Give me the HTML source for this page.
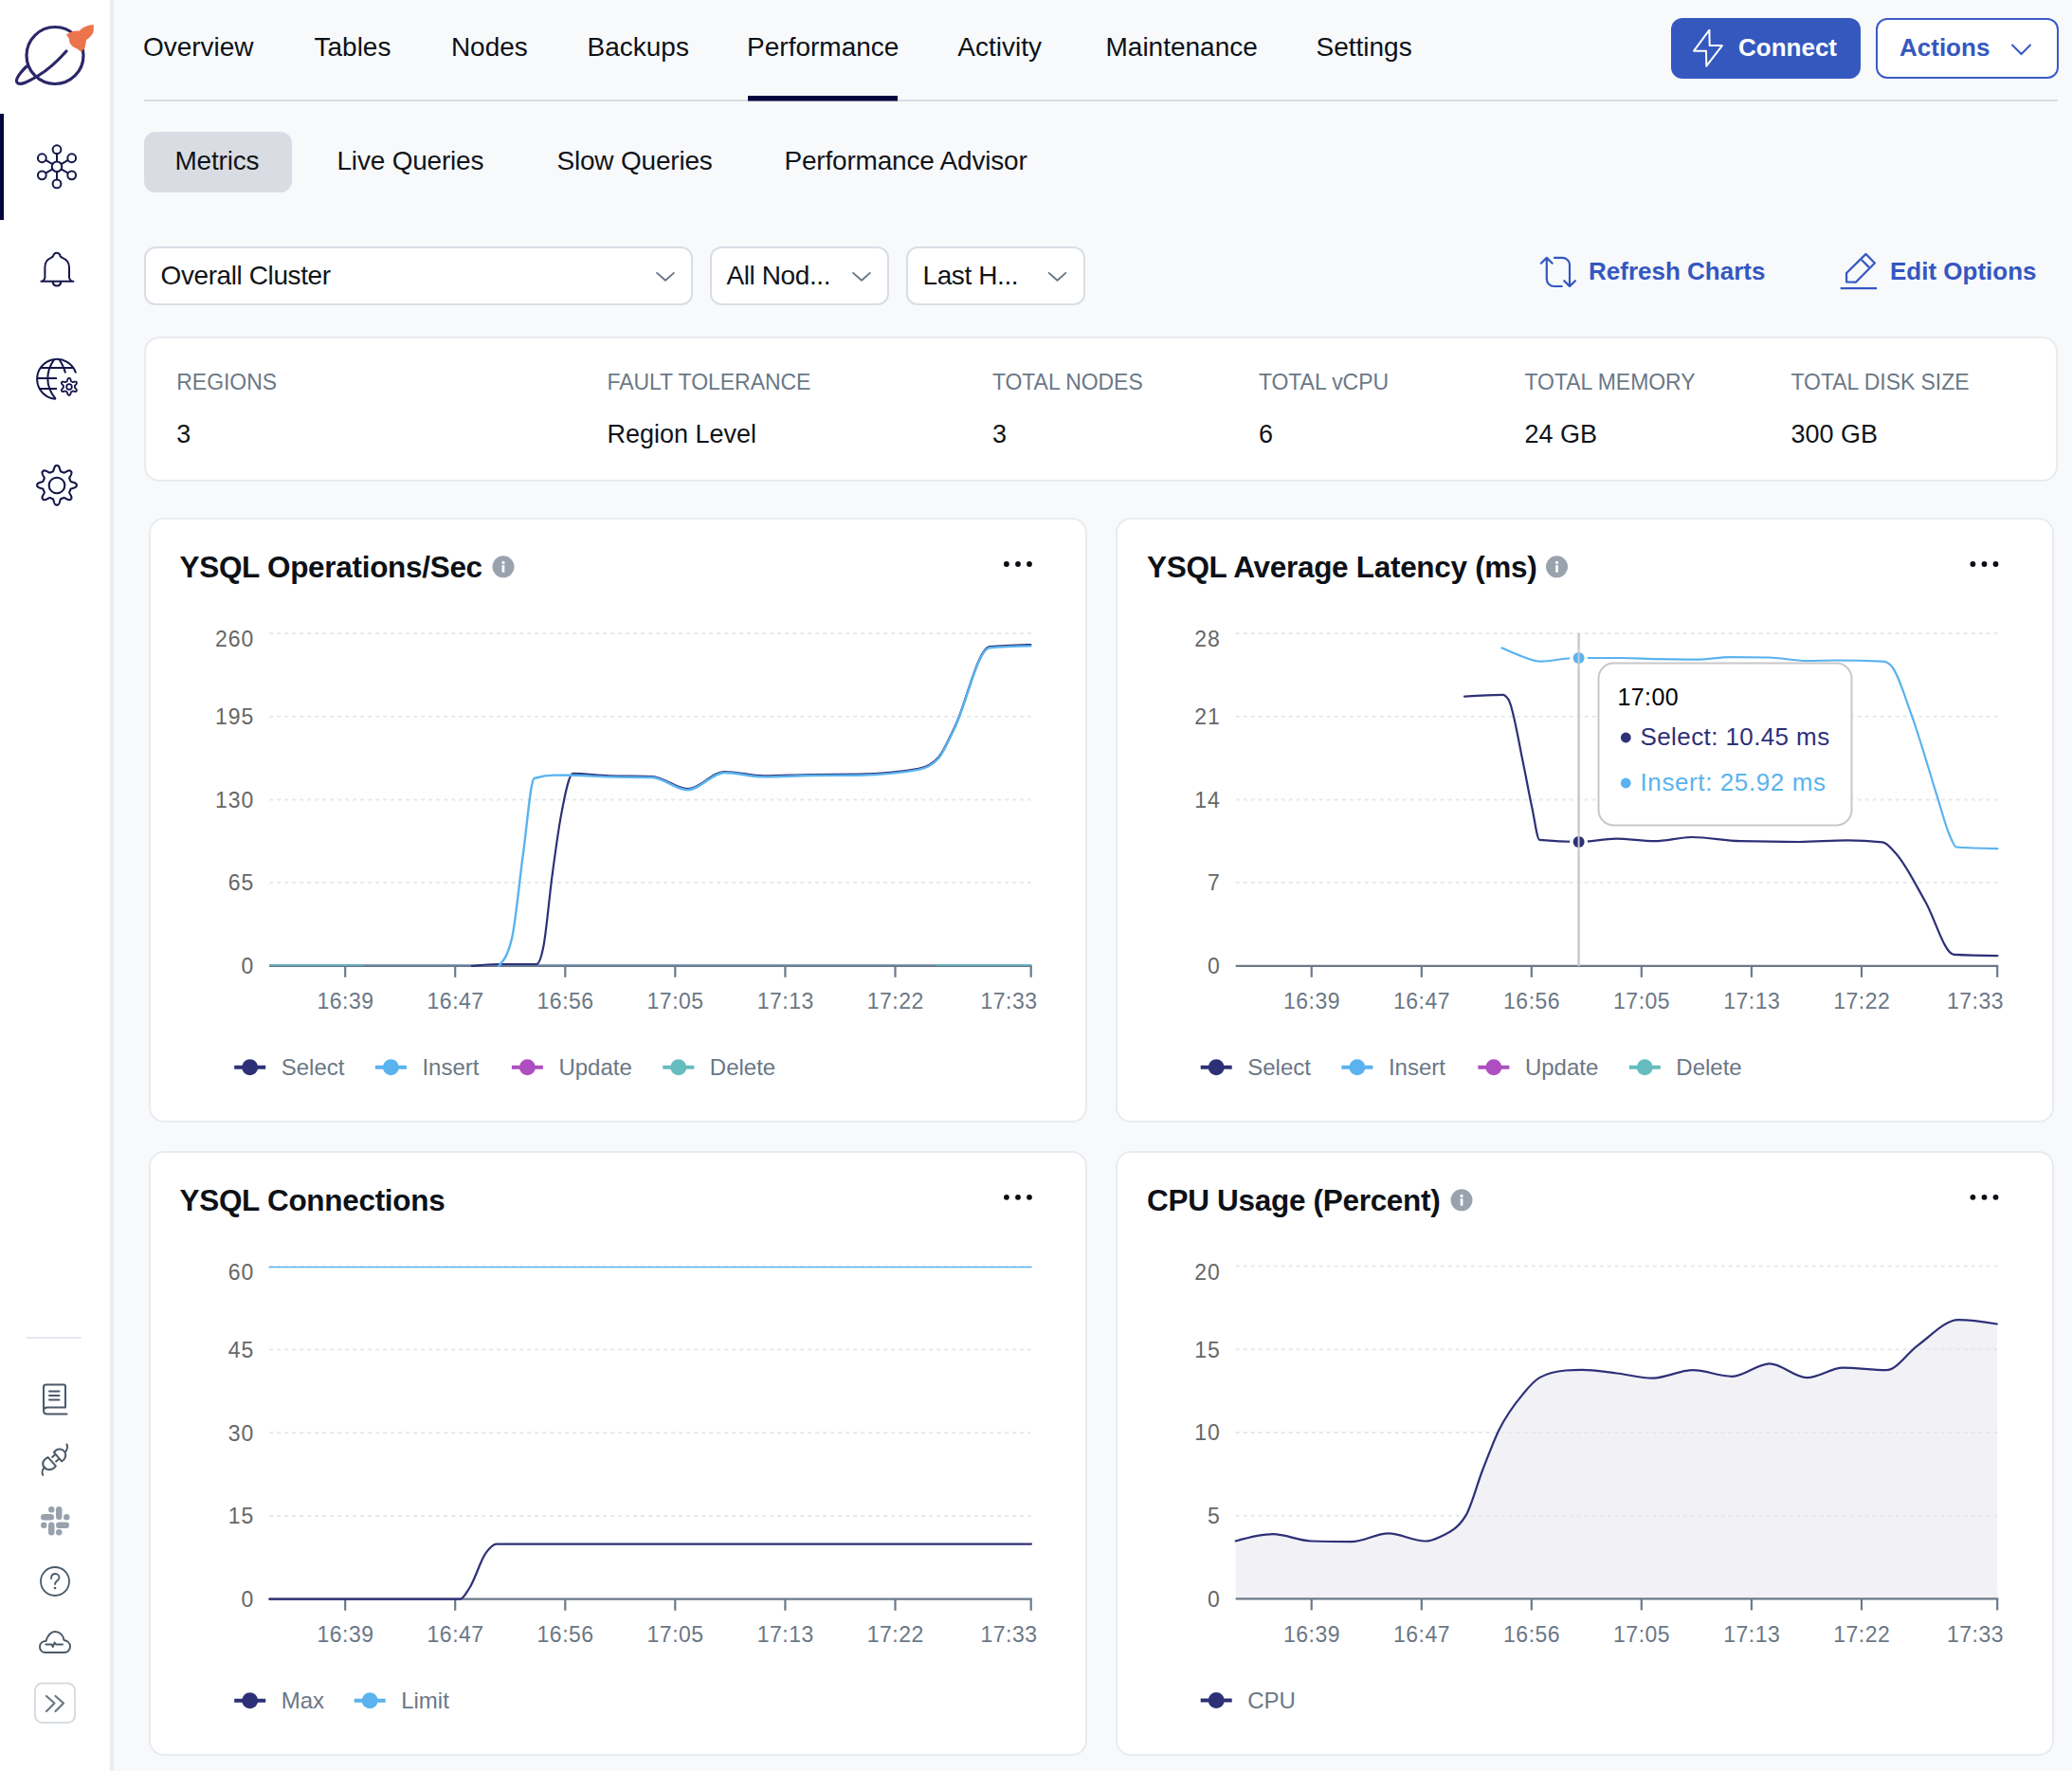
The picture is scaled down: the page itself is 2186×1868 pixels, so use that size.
<!DOCTYPE html>
<html><head><meta charset="utf-8"><title>Performance</title>
<style>
html,body{margin:0;padding:0;width:2186px;height:1868px;overflow:hidden;background:#f8f9fb;font-family:"Liberation Sans",sans-serif;}
.abs{position:absolute;}
#sidebar{position:absolute;left:0;top:0;width:116px;height:1868px;background:#fff;border-right:4px solid #e9ecf0;}
.card{position:absolute;background:#fff;border:2px solid #e8ebef;border-radius:16px;box-sizing:border-box;}
.btn{position:absolute;box-sizing:border-box;border-radius:12px;}
.sel{position:absolute;box-sizing:border-box;background:#fff;border:2px solid #d9dee4;border-radius:12px;height:62px;top:260px;}
svg text{font-family:"Liberation Sans",sans-serif;}
</style></head><body>

<div id="sidebar"></div>
<div class="abs" style="left:0;top:120px;width:4px;height:112px;background:#03033d"></div>
<div class="btn" style="left:1763px;top:19px;width:200px;height:64px;background:#3558bf"></div>
<div class="btn" style="left:1979px;top:19px;width:193px;height:64px;background:#fff;border:2px solid #3a5bc7"></div>
<div class="btn" style="left:152px;top:139px;width:156px;height:64px;background:#d9dde3"></div>
<div class="sel" style="left:152px;width:579px"></div>
<div class="sel" style="left:749px;width:189px"></div>
<div class="sel" style="left:956px;width:189px"></div>
<div class="card" style="left:152px;top:355px;width:2019px;height:153px"></div>
<div class="card" style="left:157px;top:546px;width:990px;height:638px"></div>
<div class="card" style="left:1177px;top:546px;width:990px;height:638px"></div>
<div class="card" style="left:157px;top:1214px;width:990px;height:638px"></div>
<div class="card" style="left:1177px;top:1214px;width:990px;height:638px"></div>
<svg class="abs" style="left:0;top:0" width="2186" height="1868" viewBox="0 0 2186 1868">
<g fill="none" stroke="#2b2767" stroke-width="3.2" stroke-linecap="round">
<circle cx="58" cy="58.5" r="30"/>
<path d="M28,70 C20,78 16,84 18,87 C21,91 30,86 40,80 C52,73 62,63 70,54"/>
</g>
<path d="M98.8,26.3 C95,26 88.5,27.5 83.8,32.4 L77.2,32.8 L69.9,36.3 L73,40.9 C72.8,45 75,49 80.7,51 L85.7,54.8 L89.6,50.2 L91.1,42.1 C94.5,39.5 98.8,36.5 98.8,30.9 Z" fill="#ec744c"/>
<g fill="none" stroke="#14164a" stroke-width="2">
<circle cx="60" cy="175.8" r="5.3"/>
<circle cx="60.00" cy="157.70" r="4.4"/>
<line x1="60.00" y1="170.50" x2="60.00" y2="162.10"/>
<circle cx="75.68" cy="166.75" r="4.4"/>
<line x1="64.59" y1="173.15" x2="71.86" y2="168.95"/>
<circle cx="75.68" cy="184.85" r="4.4"/>
<line x1="64.59" y1="178.45" x2="71.86" y2="182.65"/>
<circle cx="60.00" cy="193.90" r="4.4"/>
<line x1="60.00" y1="181.10" x2="60.00" y2="189.50"/>
<circle cx="44.32" cy="184.85" r="4.4"/>
<line x1="55.41" y1="178.45" x2="48.14" y2="182.65"/>
<circle cx="44.32" cy="166.75" r="4.4"/>
<line x1="55.41" y1="173.15" x2="48.14" y2="168.95"/>
</g>
<g fill="none" stroke="#14164a" stroke-width="2" stroke-linejoin="round">
<path d="M42.6,296.8 L78.2,296.8"/>
<path d="M45,296.8 C46.5,295.5 47.4,294.5 47.4,292.5 L47.4,282 C47.4,277 50,273.5 53.4,272.1 L55.9,270.6 C56.5,268 58,266.8 59.8,266.8 C61.6,266.8 63.2,268 63.8,270.6 L66.2,272.1 C69.8,273.5 73,277 73,282 L73,292.5 C73,294.5 74,295.5 75.5,296.8"/>
<path d="M55.6,297 C56,300 57.8,301.5 60,301.5 C62.2,301.5 64,300 64.4,297"/>
</g>
<g fill="none" stroke="#14164a" stroke-width="2">
<path d="M80.1,393.4 A21,21 0 1 0 58.8,420.8"/>
<path d="M57.1,379.1 C52.5,386 50.3,393 50.3,399 C50.3,406 53,414 58.8,420.8"/>
<path d="M62.5,379.1 C65.5,384 67.8,388.5 69,393.4"/>
<line x1="42.5" y1="388" x2="77" y2="388"/><line x1="39" y1="399" x2="60" y2="399"/><line x1="41.5" y1="410" x2="60" y2="410"/>
</g>
<g fill="none" stroke="#14164a" stroke-width="1.8" stroke-linejoin="round">
<path d="M78.90,407.80 L78.90,407.85 L78.90,407.90 L78.90,407.96 L78.90,408.01 L78.89,408.06 L78.89,408.11 L78.89,408.17 L78.89,408.22 L78.88,408.27 L78.88,408.32 L78.87,408.38 L78.87,408.43 L78.86,408.48 L78.86,408.53 L78.85,408.58 L78.85,408.64 L78.86,408.69 L78.88,408.75 L78.91,408.81 L78.94,408.87 L78.99,408.93 L79.03,408.99 L79.09,409.06 L79.15,409.13 L79.22,409.20 L79.29,409.28 L79.37,409.35 L79.45,409.43 L79.53,409.52 L79.62,409.60 L79.71,409.69 L79.80,409.78 L79.89,409.87 L79.98,409.97 L80.07,410.06 L80.16,410.16 L80.25,410.26 L80.34,410.36 L80.42,410.46 L80.50,410.57 L80.57,410.67 L80.64,410.77 L80.70,410.87 L80.76,410.98 L80.81,411.08 L80.85,411.18 L80.89,411.27 L80.92,411.37 L80.94,411.46 L80.95,411.55 L80.95,411.64 L80.95,411.73 L80.94,411.81 L80.91,411.88 L80.88,411.96 L80.85,412.03 L80.81,412.09 L80.77,412.16 L80.73,412.23 L80.69,412.30 L80.65,412.37 L80.61,412.44 L80.57,412.50 L80.53,412.57 L80.49,412.64 L80.44,412.70 L80.39,412.76 L80.32,412.81 L80.25,412.85 L80.18,412.89 L80.09,412.93 L80.00,412.96 L79.90,412.98 L79.80,413.00 L79.69,413.01 L79.58,413.02 L79.46,413.02 L79.34,413.02 L79.22,413.01 L79.09,413.00 L78.97,412.98 L78.84,412.96 L78.71,412.94 L78.58,412.91 L78.45,412.88 L78.32,412.85 L78.19,412.82 L78.06,412.79 L77.94,412.75 L77.82,412.72 L77.70,412.69 L77.59,412.66 L77.48,412.63 L77.37,412.60 L77.27,412.57 L77.18,412.55 L77.09,412.53 L77.00,412.52 L76.92,412.51 L76.84,412.50 L76.78,412.50 L76.71,412.51 L76.65,412.52 L76.60,412.54 L76.55,412.56 L76.51,412.59 L76.47,412.62 L76.43,412.65 L76.38,412.68 L76.34,412.71 L76.30,412.74 L76.26,412.77 L76.21,412.80 L76.17,412.83 L76.12,412.86 L76.08,412.89 L76.03,412.92 L75.99,412.94 L75.95,412.97 L75.90,413.00 L75.85,413.02 L75.81,413.05 L75.76,413.07 L75.72,413.10 L75.67,413.12 L75.62,413.15 L75.58,413.17 L75.53,413.19 L75.48,413.22 L75.44,413.24 L75.39,413.26 L75.34,413.28 L75.29,413.30 L75.24,413.32 L75.20,413.34 L75.15,413.37 L75.11,413.41 L75.07,413.45 L75.03,413.51 L75.00,413.57 L74.97,413.63 L74.93,413.71 L74.90,413.79 L74.88,413.88 L74.85,413.97 L74.82,414.07 L74.79,414.18 L74.76,414.29 L74.73,414.40 L74.70,414.52 L74.67,414.64 L74.64,414.77 L74.60,414.89 L74.57,415.02 L74.53,415.14 L74.49,415.27 L74.45,415.40 L74.40,415.52 L74.35,415.64 L74.30,415.76 L74.25,415.88 L74.20,415.99 L74.14,416.09 L74.08,416.19 L74.02,416.29 L73.95,416.37 L73.89,416.45 L73.82,416.53 L73.75,416.59 L73.67,416.65 L73.60,416.69 L73.52,416.73 L73.45,416.76 L73.37,416.78 L73.29,416.79 L73.21,416.79 L73.14,416.80 L73.06,416.80 L72.98,416.80 L72.90,416.80 L72.82,416.80 L72.74,416.80 L72.66,416.80 L72.59,416.79 L72.51,416.79 L72.43,416.78 L72.35,416.76 L72.28,416.73 L72.20,416.69 L72.13,416.65 L72.05,416.59 L71.98,416.53 L71.91,416.45 L71.85,416.37 L71.78,416.29 L71.72,416.19 L71.66,416.09 L71.60,415.99 L71.55,415.88 L71.50,415.76 L71.45,415.64 L71.40,415.52 L71.35,415.40 L71.31,415.27 L71.27,415.14 L71.23,415.02 L71.20,414.89 L71.16,414.77 L71.13,414.64 L71.10,414.52 L71.07,414.40 L71.04,414.29 L71.01,414.18 L70.98,414.07 L70.95,413.97 L70.92,413.88 L70.90,413.79 L70.87,413.71 L70.83,413.63 L70.80,413.57 L70.77,413.51 L70.73,413.45 L70.69,413.41 L70.65,413.37 L70.60,413.34 L70.56,413.32 L70.51,413.30 L70.46,413.28 L70.41,413.26 L70.36,413.24 L70.32,413.22 L70.27,413.19 L70.22,413.17 L70.18,413.15 L70.13,413.12 L70.08,413.10 L70.04,413.07 L69.99,413.05 L69.95,413.02 L69.90,413.00 L69.85,412.97 L69.81,412.94 L69.77,412.92 L69.72,412.89 L69.68,412.86 L69.63,412.83 L69.59,412.80 L69.54,412.77 L69.50,412.74 L69.46,412.71 L69.42,412.68 L69.37,412.65 L69.33,412.62 L69.29,412.59 L69.25,412.56 L69.20,412.54 L69.15,412.52 L69.09,412.51 L69.02,412.50 L68.96,412.50 L68.88,412.51 L68.80,412.52 L68.71,412.53 L68.62,412.55 L68.53,412.57 L68.43,412.60 L68.32,412.63 L68.21,412.66 L68.10,412.69 L67.98,412.72 L67.86,412.75 L67.74,412.79 L67.61,412.82 L67.48,412.85 L67.35,412.88 L67.22,412.91 L67.09,412.94 L66.96,412.96 L66.83,412.98 L66.71,413.00 L66.58,413.01 L66.46,413.02 L66.34,413.02 L66.22,413.02 L66.11,413.01 L66.00,413.00 L65.90,412.98 L65.80,412.96 L65.71,412.93 L65.62,412.89 L65.55,412.85 L65.48,412.81 L65.41,412.76 L65.36,412.70 L65.31,412.64 L65.27,412.57 L65.23,412.50 L65.19,412.44 L65.15,412.37 L65.11,412.30 L65.07,412.23 L65.03,412.16 L64.99,412.09 L64.95,412.03 L64.92,411.96 L64.89,411.88 L64.86,411.81 L64.85,411.73 L64.85,411.64 L64.85,411.55 L64.86,411.46 L64.88,411.37 L64.91,411.27 L64.95,411.18 L64.99,411.08 L65.04,410.98 L65.10,410.87 L65.16,410.77 L65.23,410.67 L65.30,410.57 L65.38,410.46 L65.46,410.36 L65.55,410.26 L65.64,410.16 L65.73,410.06 L65.82,409.97 L65.91,409.87 L66.00,409.78 L66.09,409.69 L66.18,409.60 L66.27,409.52 L66.35,409.43 L66.43,409.35 L66.51,409.28 L66.58,409.20 L66.65,409.13 L66.71,409.06 L66.77,408.99 L66.81,408.93 L66.86,408.87 L66.89,408.81 L66.92,408.75 L66.94,408.69 L66.95,408.64 L66.95,408.58 L66.94,408.53 L66.94,408.48 L66.93,408.43 L66.93,408.38 L66.92,408.32 L66.92,408.27 L66.91,408.22 L66.91,408.17 L66.91,408.11 L66.91,408.06 L66.90,408.01 L66.90,407.96 L66.90,407.90 L66.90,407.85 L66.90,407.80 L66.90,407.75 L66.90,407.70 L66.90,407.64 L66.90,407.59 L66.91,407.54 L66.91,407.49 L66.91,407.43 L66.91,407.38 L66.92,407.33 L66.92,407.28 L66.93,407.22 L66.93,407.17 L66.94,407.12 L66.94,407.07 L66.95,407.02 L66.95,406.96 L66.94,406.91 L66.92,406.85 L66.89,406.79 L66.86,406.73 L66.81,406.67 L66.77,406.61 L66.71,406.54 L66.65,406.47 L66.58,406.40 L66.51,406.32 L66.43,406.25 L66.35,406.17 L66.27,406.08 L66.18,406.00 L66.09,405.91 L66.00,405.82 L65.91,405.73 L65.82,405.63 L65.73,405.54 L65.64,405.44 L65.55,405.34 L65.46,405.24 L65.38,405.14 L65.30,405.03 L65.23,404.93 L65.16,404.83 L65.10,404.73 L65.04,404.62 L64.99,404.52 L64.95,404.42 L64.91,404.33 L64.88,404.23 L64.86,404.14 L64.85,404.05 L64.85,403.96 L64.85,403.87 L64.86,403.79 L64.89,403.72 L64.92,403.64 L64.95,403.57 L64.99,403.51 L65.03,403.44 L65.07,403.37 L65.11,403.30 L65.15,403.23 L65.19,403.16 L65.23,403.10 L65.27,403.03 L65.31,402.96 L65.36,402.90 L65.41,402.84 L65.48,402.79 L65.55,402.75 L65.62,402.71 L65.71,402.67 L65.80,402.64 L65.90,402.62 L66.00,402.60 L66.11,402.59 L66.22,402.58 L66.34,402.58 L66.46,402.58 L66.58,402.59 L66.71,402.60 L66.83,402.62 L66.96,402.64 L67.09,402.66 L67.22,402.69 L67.35,402.72 L67.48,402.75 L67.61,402.78 L67.74,402.81 L67.86,402.85 L67.98,402.88 L68.10,402.91 L68.21,402.94 L68.32,402.97 L68.43,403.00 L68.53,403.03 L68.62,403.05 L68.71,403.07 L68.80,403.08 L68.88,403.09 L68.96,403.10 L69.02,403.10 L69.09,403.09 L69.15,403.08 L69.20,403.06 L69.25,403.04 L69.29,403.01 L69.33,402.98 L69.37,402.95 L69.42,402.92 L69.46,402.89 L69.50,402.86 L69.54,402.83 L69.59,402.80 L69.63,402.77 L69.68,402.74 L69.72,402.71 L69.77,402.68 L69.81,402.66 L69.85,402.63 L69.90,402.60 L69.95,402.58 L69.99,402.55 L70.04,402.53 L70.08,402.50 L70.13,402.48 L70.18,402.45 L70.22,402.43 L70.27,402.41 L70.32,402.38 L70.36,402.36 L70.41,402.34 L70.46,402.32 L70.51,402.30 L70.56,402.28 L70.60,402.26 L70.65,402.23 L70.69,402.19 L70.73,402.15 L70.77,402.09 L70.80,402.03 L70.83,401.97 L70.87,401.89 L70.90,401.81 L70.92,401.72 L70.95,401.63 L70.98,401.53 L71.01,401.42 L71.04,401.31 L71.07,401.20 L71.10,401.08 L71.13,400.96 L71.16,400.83 L71.20,400.71 L71.23,400.58 L71.27,400.46 L71.31,400.33 L71.35,400.20 L71.40,400.08 L71.45,399.96 L71.50,399.84 L71.55,399.72 L71.60,399.61 L71.66,399.51 L71.72,399.41 L71.78,399.31 L71.85,399.23 L71.91,399.15 L71.98,399.07 L72.05,399.01 L72.13,398.95 L72.20,398.91 L72.28,398.87 L72.35,398.84 L72.43,398.82 L72.51,398.81 L72.59,398.81 L72.66,398.80 L72.74,398.80 L72.82,398.80 L72.90,398.80 L72.98,398.80 L73.06,398.80 L73.14,398.80 L73.21,398.81 L73.29,398.81 L73.37,398.82 L73.45,398.84 L73.52,398.87 L73.60,398.91 L73.67,398.95 L73.75,399.01 L73.82,399.07 L73.89,399.15 L73.95,399.23 L74.02,399.31 L74.08,399.41 L74.14,399.51 L74.20,399.61 L74.25,399.72 L74.30,399.84 L74.35,399.96 L74.40,400.08 L74.45,400.20 L74.49,400.33 L74.53,400.46 L74.57,400.58 L74.60,400.71 L74.64,400.83 L74.67,400.96 L74.70,401.08 L74.73,401.20 L74.76,401.31 L74.79,401.42 L74.82,401.53 L74.85,401.63 L74.88,401.72 L74.90,401.81 L74.93,401.89 L74.97,401.97 L75.00,402.03 L75.03,402.09 L75.07,402.15 L75.11,402.19 L75.15,402.23 L75.20,402.26 L75.24,402.28 L75.29,402.30 L75.34,402.32 L75.39,402.34 L75.44,402.36 L75.48,402.38 L75.53,402.41 L75.58,402.43 L75.62,402.45 L75.67,402.48 L75.72,402.50 L75.76,402.53 L75.81,402.55 L75.85,402.58 L75.90,402.60 L75.95,402.63 L75.99,402.66 L76.03,402.68 L76.08,402.71 L76.12,402.74 L76.17,402.77 L76.21,402.80 L76.26,402.83 L76.30,402.86 L76.34,402.89 L76.38,402.92 L76.43,402.95 L76.47,402.98 L76.51,403.01 L76.55,403.04 L76.60,403.06 L76.65,403.08 L76.71,403.09 L76.78,403.10 L76.84,403.10 L76.92,403.09 L77.00,403.08 L77.09,403.07 L77.18,403.05 L77.27,403.03 L77.37,403.00 L77.48,402.97 L77.59,402.94 L77.70,402.91 L77.82,402.88 L77.94,402.85 L78.06,402.81 L78.19,402.78 L78.32,402.75 L78.45,402.72 L78.58,402.69 L78.71,402.66 L78.84,402.64 L78.97,402.62 L79.09,402.60 L79.22,402.59 L79.34,402.58 L79.46,402.58 L79.58,402.58 L79.69,402.59 L79.80,402.60 L79.90,402.62 L80.00,402.64 L80.09,402.67 L80.18,402.71 L80.25,402.75 L80.32,402.79 L80.39,402.84 L80.44,402.90 L80.49,402.96 L80.53,403.03 L80.57,403.10 L80.61,403.16 L80.65,403.23 L80.69,403.30 L80.73,403.37 L80.77,403.44 L80.81,403.51 L80.85,403.57 L80.88,403.64 L80.91,403.72 L80.94,403.79 L80.95,403.87 L80.95,403.96 L80.95,404.05 L80.94,404.14 L80.92,404.23 L80.89,404.33 L80.85,404.42 L80.81,404.52 L80.76,404.62 L80.70,404.73 L80.64,404.83 L80.57,404.93 L80.50,405.03 L80.42,405.14 L80.34,405.24 L80.25,405.34 L80.16,405.44 L80.07,405.54 L79.98,405.63 L79.89,405.73 L79.80,405.82 L79.71,405.91 L79.62,406.00 L79.53,406.08 L79.45,406.17 L79.37,406.25 L79.29,406.32 L79.22,406.40 L79.15,406.47 L79.09,406.54 L79.03,406.61 L78.99,406.67 L78.94,406.73 L78.91,406.79 L78.88,406.85 L78.86,406.91 L78.85,406.96 L78.85,407.02 L78.86,407.07 L78.86,407.12 L78.87,407.17 L78.87,407.22 L78.88,407.28 L78.88,407.33 L78.89,407.38 L78.89,407.43 L78.89,407.49 L78.89,407.54 L78.90,407.59 L78.90,407.64 L78.90,407.70 L78.90,407.75Z"/>
<circle cx="73" cy="408" r="2.8"/>
</g>
<g fill="none" stroke="#14164a" stroke-width="2.1" stroke-linejoin="round">
<path d="M80.80,511.80 L80.80,511.98 L80.80,512.16 L80.79,512.34 L80.78,512.53 L80.75,512.71 L80.68,512.88 L80.59,513.06 L80.46,513.23 L80.30,513.40 L80.12,513.56 L79.91,513.72 L79.68,513.87 L79.43,514.01 L79.15,514.15 L78.87,514.28 L78.57,514.41 L78.26,514.53 L77.94,514.64 L77.63,514.75 L77.31,514.85 L76.99,514.95 L76.68,515.04 L76.38,515.13 L76.09,515.22 L75.82,515.31 L75.56,515.39 L75.32,515.48 L75.11,515.57 L74.91,515.66 L74.75,515.75 L74.60,515.85 L74.49,515.95 L74.40,516.07 L74.35,516.19 L74.31,516.31 L74.27,516.44 L74.22,516.56 L74.18,516.68 L74.14,516.81 L74.10,516.93 L74.05,517.05 L74.00,517.18 L73.96,517.30 L73.91,517.42 L73.86,517.54 L73.81,517.66 L73.76,517.78 L73.70,517.90 L73.65,518.02 L73.59,518.14 L73.54,518.26 L73.48,518.38 L73.42,518.49 L73.37,518.61 L73.31,518.73 L73.24,518.84 L73.20,518.97 L73.18,519.11 L73.19,519.26 L73.22,519.43 L73.27,519.62 L73.34,519.82 L73.43,520.03 L73.54,520.26 L73.66,520.50 L73.80,520.76 L73.94,521.03 L74.09,521.30 L74.24,521.59 L74.40,521.88 L74.55,522.18 L74.70,522.48 L74.84,522.78 L74.97,523.08 L75.10,523.38 L75.21,523.68 L75.30,523.97 L75.38,524.25 L75.43,524.52 L75.47,524.78 L75.49,525.03 L75.48,525.26 L75.45,525.47 L75.39,525.66 L75.31,525.83 L75.21,525.98 L75.09,526.12 L74.96,526.25 L74.84,526.38 L74.71,526.51 L74.58,526.64 L74.45,526.76 L74.32,526.89 L74.18,527.01 L74.03,527.11 L73.86,527.19 L73.67,527.25 L73.46,527.28 L73.23,527.29 L72.98,527.27 L72.72,527.23 L72.45,527.18 L72.17,527.10 L71.88,527.01 L71.58,526.90 L71.28,526.77 L70.98,526.64 L70.68,526.50 L70.38,526.35 L70.08,526.20 L69.79,526.04 L69.50,525.89 L69.23,525.74 L68.96,525.60 L68.70,525.46 L68.46,525.34 L68.23,525.23 L68.02,525.14 L67.82,525.07 L67.63,525.02 L67.46,524.99 L67.31,524.98 L67.17,525.00 L67.04,525.04 L66.93,525.11 L66.81,525.17 L66.69,525.22 L66.58,525.28 L66.46,525.34 L66.34,525.39 L66.22,525.45 L66.10,525.50 L65.98,525.56 L65.86,525.61 L65.74,525.66 L65.62,525.71 L65.50,525.76 L65.38,525.80 L65.25,525.85 L65.13,525.90 L65.01,525.94 L64.88,525.98 L64.76,526.02 L64.64,526.07 L64.51,526.11 L64.39,526.15 L64.27,526.20 L64.15,526.29 L64.05,526.40 L63.95,526.55 L63.86,526.71 L63.77,526.91 L63.68,527.12 L63.59,527.36 L63.51,527.62 L63.42,527.89 L63.33,528.18 L63.24,528.48 L63.15,528.79 L63.05,529.11 L62.95,529.43 L62.84,529.74 L62.73,530.06 L62.61,530.37 L62.48,530.67 L62.35,530.95 L62.21,531.23 L62.07,531.48 L61.92,531.71 L61.76,531.92 L61.60,532.10 L61.43,532.26 L61.26,532.39 L61.08,532.48 L60.91,532.55 L60.73,532.58 L60.54,532.59 L60.36,532.60 L60.18,532.60 L60.00,532.60 L59.82,532.60 L59.64,532.60 L59.46,532.59 L59.27,532.58 L59.09,532.55 L58.92,532.48 L58.74,532.39 L58.57,532.26 L58.40,532.10 L58.24,531.92 L58.08,531.71 L57.93,531.48 L57.79,531.23 L57.65,530.95 L57.52,530.67 L57.39,530.37 L57.27,530.06 L57.16,529.74 L57.05,529.43 L56.95,529.11 L56.85,528.79 L56.76,528.48 L56.67,528.18 L56.58,527.89 L56.49,527.62 L56.41,527.36 L56.32,527.12 L56.23,526.91 L56.14,526.71 L56.05,526.55 L55.95,526.40 L55.85,526.29 L55.73,526.20 L55.61,526.15 L55.49,526.11 L55.36,526.07 L55.24,526.02 L55.12,525.98 L54.99,525.94 L54.87,525.90 L54.75,525.85 L54.62,525.80 L54.50,525.76 L54.38,525.71 L54.26,525.66 L54.14,525.61 L54.02,525.56 L53.90,525.50 L53.78,525.45 L53.66,525.39 L53.54,525.34 L53.42,525.28 L53.31,525.22 L53.19,525.17 L53.07,525.11 L52.96,525.04 L52.83,525.00 L52.69,524.98 L52.54,524.99 L52.37,525.02 L52.18,525.07 L51.98,525.14 L51.77,525.23 L51.54,525.34 L51.30,525.46 L51.04,525.60 L50.77,525.74 L50.50,525.89 L50.21,526.04 L49.92,526.20 L49.62,526.35 L49.32,526.50 L49.02,526.64 L48.72,526.77 L48.42,526.90 L48.12,527.01 L47.83,527.10 L47.55,527.18 L47.28,527.23 L47.02,527.27 L46.77,527.29 L46.54,527.28 L46.33,527.25 L46.14,527.19 L45.97,527.11 L45.82,527.01 L45.68,526.89 L45.55,526.76 L45.42,526.64 L45.29,526.51 L45.16,526.38 L45.04,526.25 L44.91,526.12 L44.79,525.98 L44.69,525.83 L44.61,525.66 L44.55,525.47 L44.52,525.26 L44.51,525.03 L44.53,524.78 L44.57,524.52 L44.62,524.25 L44.70,523.97 L44.79,523.68 L44.90,523.38 L45.03,523.08 L45.16,522.78 L45.30,522.48 L45.45,522.18 L45.60,521.88 L45.76,521.59 L45.91,521.30 L46.06,521.03 L46.20,520.76 L46.34,520.50 L46.46,520.26 L46.57,520.03 L46.66,519.82 L46.73,519.62 L46.78,519.43 L46.81,519.26 L46.82,519.11 L46.80,518.97 L46.76,518.84 L46.69,518.73 L46.63,518.61 L46.58,518.49 L46.52,518.38 L46.46,518.26 L46.41,518.14 L46.35,518.02 L46.30,517.90 L46.24,517.78 L46.19,517.66 L46.14,517.54 L46.09,517.42 L46.04,517.30 L46.00,517.18 L45.95,517.05 L45.90,516.93 L45.86,516.81 L45.82,516.68 L45.78,516.56 L45.73,516.44 L45.69,516.31 L45.65,516.19 L45.60,516.07 L45.51,515.95 L45.40,515.85 L45.25,515.75 L45.09,515.66 L44.89,515.57 L44.68,515.48 L44.44,515.39 L44.18,515.31 L43.91,515.22 L43.62,515.13 L43.32,515.04 L43.01,514.95 L42.69,514.85 L42.37,514.75 L42.06,514.64 L41.74,514.53 L41.43,514.41 L41.13,514.28 L40.85,514.15 L40.57,514.01 L40.32,513.87 L40.09,513.72 L39.88,513.56 L39.70,513.40 L39.54,513.23 L39.41,513.06 L39.32,512.88 L39.25,512.71 L39.22,512.53 L39.21,512.34 L39.20,512.16 L39.20,511.98 L39.20,511.80 L39.20,511.62 L39.20,511.44 L39.21,511.26 L39.22,511.07 L39.25,510.89 L39.32,510.72 L39.41,510.54 L39.54,510.37 L39.70,510.20 L39.88,510.04 L40.09,509.88 L40.32,509.73 L40.57,509.59 L40.85,509.45 L41.13,509.32 L41.43,509.19 L41.74,509.07 L42.06,508.96 L42.37,508.85 L42.69,508.75 L43.01,508.65 L43.32,508.56 L43.62,508.47 L43.91,508.38 L44.18,508.29 L44.44,508.21 L44.68,508.12 L44.89,508.03 L45.09,507.94 L45.25,507.85 L45.40,507.75 L45.51,507.65 L45.60,507.53 L45.65,507.41 L45.69,507.29 L45.73,507.16 L45.78,507.04 L45.82,506.92 L45.86,506.79 L45.90,506.67 L45.95,506.55 L46.00,506.42 L46.04,506.30 L46.09,506.18 L46.14,506.06 L46.19,505.94 L46.24,505.82 L46.30,505.70 L46.35,505.58 L46.41,505.46 L46.46,505.34 L46.52,505.22 L46.58,505.11 L46.63,504.99 L46.69,504.87 L46.76,504.76 L46.80,504.63 L46.82,504.49 L46.81,504.34 L46.78,504.17 L46.73,503.98 L46.66,503.78 L46.57,503.57 L46.46,503.34 L46.34,503.10 L46.20,502.84 L46.06,502.57 L45.91,502.30 L45.76,502.01 L45.60,501.72 L45.45,501.42 L45.30,501.12 L45.16,500.82 L45.03,500.52 L44.90,500.22 L44.79,499.92 L44.70,499.63 L44.62,499.35 L44.57,499.08 L44.53,498.82 L44.51,498.57 L44.52,498.34 L44.55,498.13 L44.61,497.94 L44.69,497.77 L44.79,497.62 L44.91,497.48 L45.04,497.35 L45.16,497.22 L45.29,497.09 L45.42,496.96 L45.55,496.84 L45.68,496.71 L45.82,496.59 L45.97,496.49 L46.14,496.41 L46.33,496.35 L46.54,496.32 L46.77,496.31 L47.02,496.33 L47.28,496.37 L47.55,496.42 L47.83,496.50 L48.12,496.59 L48.42,496.70 L48.72,496.83 L49.02,496.96 L49.32,497.10 L49.62,497.25 L49.92,497.40 L50.21,497.56 L50.50,497.71 L50.77,497.86 L51.04,498.00 L51.30,498.14 L51.54,498.26 L51.77,498.37 L51.98,498.46 L52.18,498.53 L52.37,498.58 L52.54,498.61 L52.69,498.62 L52.83,498.60 L52.96,498.56 L53.07,498.49 L53.19,498.43 L53.31,498.38 L53.42,498.32 L53.54,498.26 L53.66,498.21 L53.78,498.15 L53.90,498.10 L54.02,498.04 L54.14,497.99 L54.26,497.94 L54.38,497.89 L54.50,497.84 L54.62,497.80 L54.75,497.75 L54.87,497.70 L54.99,497.66 L55.12,497.62 L55.24,497.58 L55.36,497.53 L55.49,497.49 L55.61,497.45 L55.73,497.40 L55.85,497.31 L55.95,497.20 L56.05,497.05 L56.14,496.89 L56.23,496.69 L56.32,496.48 L56.41,496.24 L56.49,495.98 L56.58,495.71 L56.67,495.42 L56.76,495.12 L56.85,494.81 L56.95,494.49 L57.05,494.17 L57.16,493.86 L57.27,493.54 L57.39,493.23 L57.52,492.93 L57.65,492.65 L57.79,492.37 L57.93,492.12 L58.08,491.89 L58.24,491.68 L58.40,491.50 L58.57,491.34 L58.74,491.21 L58.92,491.12 L59.09,491.05 L59.27,491.02 L59.46,491.01 L59.64,491.00 L59.82,491.00 L60.00,491.00 L60.18,491.00 L60.36,491.00 L60.54,491.01 L60.73,491.02 L60.91,491.05 L61.08,491.12 L61.26,491.21 L61.43,491.34 L61.60,491.50 L61.76,491.68 L61.92,491.89 L62.07,492.12 L62.21,492.37 L62.35,492.65 L62.48,492.93 L62.61,493.23 L62.73,493.54 L62.84,493.86 L62.95,494.17 L63.05,494.49 L63.15,494.81 L63.24,495.12 L63.33,495.42 L63.42,495.71 L63.51,495.98 L63.59,496.24 L63.68,496.48 L63.77,496.69 L63.86,496.89 L63.95,497.05 L64.05,497.20 L64.15,497.31 L64.27,497.40 L64.39,497.45 L64.51,497.49 L64.64,497.53 L64.76,497.58 L64.88,497.62 L65.01,497.66 L65.13,497.70 L65.25,497.75 L65.38,497.80 L65.50,497.84 L65.62,497.89 L65.74,497.94 L65.86,497.99 L65.98,498.04 L66.10,498.10 L66.22,498.15 L66.34,498.21 L66.46,498.26 L66.58,498.32 L66.69,498.38 L66.81,498.43 L66.93,498.49 L67.04,498.56 L67.17,498.60 L67.31,498.62 L67.46,498.61 L67.63,498.58 L67.82,498.53 L68.02,498.46 L68.23,498.37 L68.46,498.26 L68.70,498.14 L68.96,498.00 L69.23,497.86 L69.50,497.71 L69.79,497.56 L70.08,497.40 L70.38,497.25 L70.68,497.10 L70.98,496.96 L71.28,496.83 L71.58,496.70 L71.88,496.59 L72.17,496.50 L72.45,496.42 L72.72,496.37 L72.98,496.33 L73.23,496.31 L73.46,496.32 L73.67,496.35 L73.86,496.41 L74.03,496.49 L74.18,496.59 L74.32,496.71 L74.45,496.84 L74.58,496.96 L74.71,497.09 L74.84,497.22 L74.96,497.35 L75.09,497.48 L75.21,497.62 L75.31,497.77 L75.39,497.94 L75.45,498.13 L75.48,498.34 L75.49,498.57 L75.47,498.82 L75.43,499.08 L75.38,499.35 L75.30,499.63 L75.21,499.92 L75.10,500.22 L74.97,500.52 L74.84,500.82 L74.70,501.12 L74.55,501.42 L74.40,501.72 L74.24,502.01 L74.09,502.30 L73.94,502.57 L73.80,502.84 L73.66,503.10 L73.54,503.34 L73.43,503.57 L73.34,503.78 L73.27,503.98 L73.22,504.17 L73.19,504.34 L73.18,504.49 L73.20,504.63 L73.24,504.76 L73.31,504.87 L73.37,504.99 L73.42,505.11 L73.48,505.22 L73.54,505.34 L73.59,505.46 L73.65,505.58 L73.70,505.70 L73.76,505.82 L73.81,505.94 L73.86,506.06 L73.91,506.18 L73.96,506.30 L74.00,506.42 L74.05,506.55 L74.10,506.67 L74.14,506.79 L74.18,506.92 L74.22,507.04 L74.27,507.16 L74.31,507.29 L74.35,507.41 L74.40,507.53 L74.49,507.65 L74.60,507.75 L74.75,507.85 L74.91,507.94 L75.11,508.03 L75.32,508.12 L75.56,508.21 L75.82,508.29 L76.09,508.38 L76.38,508.47 L76.68,508.56 L76.99,508.65 L77.31,508.75 L77.63,508.85 L77.94,508.96 L78.26,509.07 L78.57,509.19 L78.87,509.32 L79.15,509.45 L79.43,509.59 L79.68,509.73 L79.91,509.88 L80.12,510.04 L80.30,510.20 L80.46,510.37 L80.59,510.54 L80.68,510.72 L80.75,510.89 L80.78,511.07 L80.79,511.26 L80.80,511.44 L80.80,511.62Z"/>
<circle cx="60" cy="512" r="8.3"/>
</g>
<line x1="28" y1="1411" x2="86" y2="1411" stroke="#e5e9ee" stroke-width="2"/>
<g fill="none" stroke="#4a5968" stroke-width="2" stroke-linecap="round" stroke-linejoin="round">
<path d="M46,1486 L46,1463 C46,1461.5 47,1460.5 48.5,1460.5 L67.5,1460.5 C68.5,1460.5 69,1461 69,1462 L69,1484.5 L50,1484.5 C47.5,1484.5 46,1486 46,1488 C46,1490 47.5,1491.5 50,1491.5 L70.5,1491.5"/>
<line x1="52" y1="1467.5" x2="62.5" y2="1467.5"/><line x1="52" y1="1472" x2="62.5" y2="1472"/><line x1="52" y1="1476.5" x2="62.5" y2="1476.5"/>
<path d="M50.7,1537.1 L58.9,1546.3 C56.5,1550.5 50,1551.5 46.8,1548 C43.8,1544.5 45,1539.5 50.7,1537.1 Z"/>
<path d="M56.9,1531.9 L65.1,1541.4 C69,1539.5 70.5,1534.5 68,1531 C65.5,1527.5 60,1527.5 56.9,1531.9 Z"/>
<path d="M55.1,1536.9 L57.9,1534.4 M59.1,1541.6 L62.1,1538.9"/>
<path d="M47.2,1547.6 C44.5,1550 44,1553.5 45.2,1555.8"/><path d="M69.1,1531.2 C71,1529.5 71.5,1525.5 70.5,1523.5"/>
</g>
<g fill="#97a2ae">
<rect x="43" y="1597" width="14" height="6.5" rx="3.25"/>
<rect x="59" y="1589" width="6.5" height="14" rx="3.25"/>
<rect x="67" y="1597" width="6.5" height="6.5" rx="3.25"/>
<rect x="51" y="1589" width="6.5" height="6.5" rx="3.25"/>
<rect x="59" y="1605.5" width="14" height="6.5" rx="3.25"/>
<rect x="51" y="1605.5" width="6.5" height="14" rx="3.25"/>
<rect x="43" y="1605.5" width="6.5" height="6.5" rx="3.25"/>
<rect x="59" y="1613" width="6.5" height="6.5" rx="3.25"/>
</g>
<g fill="none" stroke="#4a5968" stroke-width="1.8" stroke-linecap="round" stroke-linejoin="round">
<circle cx="58" cy="1668" r="15"/>
<path d="M54,1665 C54,1661.5 56,1660 58.5,1660 C61,1660 62.5,1662 62.5,1664 C62.5,1667 58,1667.5 58,1671"/>
</g>
<circle cx="58" cy="1675" r="1.3" fill="#4a5968"/>
<g fill="none" stroke="#4a5968" stroke-width="2" stroke-linecap="round" stroke-linejoin="round">
<path d="M48,1743 C44,1743 42,1740 42,1737 C42,1733 45,1731 48.5,1731 C50,1725 54,1721 58,1721 C63,1721 67,1725 67.5,1730 C71,1730.5 74,1733 74,1736.5 C74,1740 71.5,1743 68,1743 Z"/>
<path d="M48.5,1734.5 L54.5,1734.5 L55.8,1737 L57.5,1732.5 L59,1734.5 L66,1734.5"/>
</g>
<rect x="37" y="1775.5" width="42" height="41.5" rx="7.5" fill="none" stroke="#d7dce2" stroke-width="2"/>
<g fill="none" stroke="#6a7785" stroke-width="2.2" stroke-linecap="round" stroke-linejoin="round">
<path d="M49,1789 L57.5,1796.5 L49,1805"/><path d="M58.5,1789 L67,1796.5 L58.5,1805"/>
</g>
<text x="150.9" y="59.3" font-size="28" fill="#0d1117">Overview</text>
<text x="331.5" y="59.3" font-size="28" fill="#0d1117">Tables</text>
<text x="475.9" y="59.3" font-size="28" fill="#0d1117">Nodes</text>
<text x="619.5" y="59.3" font-size="28" fill="#0d1117">Backups</text>
<text x="788.1" y="59.3" font-size="28" fill="#0d1117">Performance</text>
<text x="1010.3" y="59.3" font-size="28" fill="#0d1117">Activity</text>
<text x="1166.5" y="59.3" font-size="28" fill="#0d1117">Maintenance</text>
<text x="1388.5" y="59.3" font-size="28" fill="#0d1117">Settings</text>
<rect x="152" y="105" width="2019" height="2" fill="#d8dde3"/>
<rect x="789" y="101" width="158" height="5.5" fill="#05053f"/>
<path d="M1803.4,31.7 L1787.1,53.7 L1800,53.7 L1800.3,69.7 L1816.9,48.1 L1803.7,48.1 Z" fill="none" stroke="#fff" stroke-width="2" stroke-linejoin="round"/>
<text x="1834.0" y="58.6" font-size="26" fill="#ffffff" font-weight="700">Connect</text>
<text x="2004.0" y="58.6" font-size="26" fill="#3558bf" font-weight="700">Actions</text>
<path d="M2123,47.5 L2132.5,57 L2142,47.5" fill="none" stroke="#3558bf" stroke-width="2" stroke-linecap="round"/>
<text x="184.5" y="179.1" font-size="28" fill="#111418" letter-spacing="-0.2">Metrics</text>
<text x="355.5" y="179.1" font-size="28" fill="#111418" letter-spacing="-0.2">Live Queries</text>
<text x="587.5" y="179.1" font-size="28" fill="#111418" letter-spacing="-0.2">Slow Queries</text>
<text x="827.5" y="179.1" font-size="28" fill="#111418" letter-spacing="-0.2">Performance Advisor</text>
<text x="169.5" y="300.0" font-size="28" fill="#111418" letter-spacing="-0.4">Overall Cluster</text>
<text x="766.5" y="300.0" font-size="28" fill="#111418" letter-spacing="-0.4">All Nod...</text>
<text x="973.5" y="300.0" font-size="28" fill="#111418" letter-spacing="-0.4">Last H...</text>
<path d="M693.1,287.9 L702.0,295.8 L710.9,287.9" fill="none" stroke="#687584" stroke-width="1.9" stroke-linecap="round" stroke-linejoin="round"/>
<path d="M900.1,287.9 L909.0,295.8 L917.9,287.9" fill="none" stroke="#687584" stroke-width="1.9" stroke-linecap="round" stroke-linejoin="round"/>
<path d="M1106.6,287.9 L1115.5,295.8 L1124.4,287.9" fill="none" stroke="#687584" stroke-width="1.9" stroke-linecap="round" stroke-linejoin="round"/>
<g fill="none" stroke="#3457c0" stroke-width="2.2" stroke-linecap="round" stroke-linejoin="round">
<path d="M1631.8,272.5 L1631.8,294 C1631.8,298.5 1635,302 1640,302 L1647.7,302"/>
<path d="M1625.8,277.7 L1631.8,271.9 L1637.7,277.7"/>
<path d="M1640,271.9 L1647.9,271.9 C1652.5,271.9 1656,275 1656,279.5 L1656,301.4"/>
<path d="M1650.2,296.2 L1656,301.9 L1661.9,296.2"/>
</g>
<text x="1676.0" y="295.0" font-size="26" fill="#3457c0" font-weight="700">Refresh Charts</text>
<g fill="none" stroke="#3457c0" stroke-width="2.2" stroke-linejoin="round">
<path d="M1948.1,297.5 L1948.1,288 L1968.6,267.9 L1977.9,277.5 L1957.8,297.7 Z"/><line x1="1963.9" y1="274" x2="1972" y2="282.1"/>
</g>
<rect x="1941.7" y="303" width="38.4" height="2.2" fill="#3457c0"/>
<text x="1994.0" y="295.0" font-size="26" fill="#3457c0" font-weight="700">Edit Options</text>
<text x="186.3" y="411.0" font-size="23" fill="#6b7886" letter-spacing="-0.05">REGIONS</text>
<text x="186.3" y="466.8" font-size="27" fill="#111418">3</text>
<text x="640.5" y="411.0" font-size="23" fill="#6b7886" letter-spacing="-0.05">FAULT TOLERANCE</text>
<text x="640.5" y="466.8" font-size="27" fill="#111418">Region Level</text>
<text x="1046.9" y="411.0" font-size="23" fill="#6b7886" letter-spacing="-0.05">TOTAL NODES</text>
<text x="1046.9" y="466.8" font-size="27" fill="#111418">3</text>
<text x="1327.9" y="411.0" font-size="23" fill="#6b7886" letter-spacing="-0.05">TOTAL vCPU</text>
<text x="1327.9" y="466.8" font-size="27" fill="#111418">6</text>
<text x="1608.5" y="411.0" font-size="23" fill="#6b7886" letter-spacing="-0.05">TOTAL MEMORY</text>
<text x="1608.5" y="466.8" font-size="27" fill="#111418">24 GB</text>
<text x="1889.5" y="411.0" font-size="23" fill="#6b7886" letter-spacing="-0.05">TOTAL DISK SIZE</text>
<text x="1889.5" y="466.8" font-size="27" fill="#111418">300 GB</text>
<text x="189.5" y="609.0" font-size="31.5" fill="#0d1117" font-weight="700" letter-spacing="-0.3">YSQL Operations/Sec</text>
<circle cx="531.0" cy="597.8" r="11.5" fill="#9aa3ad"/>
<rect x="529.6" y="596.1" width="2.7" height="7.6" rx="0.6" fill="#fff"/>
<circle cx="531.0" cy="593.4" r="1.6" fill="#fff"/>
<circle cx="1061.9" cy="595.0" r="2.9" fill="#0b0f14"/>
<circle cx="1074.0" cy="595.0" r="2.9" fill="#0b0f14"/>
<circle cx="1086.0" cy="595.0" r="2.9" fill="#0b0f14"/>
<text x="1210.0" y="609.0" font-size="31.5" fill="#0d1117" font-weight="700" letter-spacing="-0.3">YSQL Average Latency (ms)</text>
<circle cx="1642.5" cy="597.8" r="11.5" fill="#9aa3ad"/>
<rect x="1641.2" y="596.1" width="2.7" height="7.6" rx="0.6" fill="#fff"/>
<circle cx="1642.5" cy="593.4" r="1.6" fill="#fff"/>
<circle cx="2081.4" cy="595.0" r="2.9" fill="#0b0f14"/>
<circle cx="2093.5" cy="595.0" r="2.9" fill="#0b0f14"/>
<circle cx="2105.5" cy="595.0" r="2.9" fill="#0b0f14"/>
<text x="189.5" y="1277.0" font-size="31.5" fill="#0d1117" font-weight="700" letter-spacing="-0.3">YSQL Connections</text>
<circle cx="1061.9" cy="1262.8" r="2.9" fill="#0b0f14"/>
<circle cx="1074.0" cy="1262.8" r="2.9" fill="#0b0f14"/>
<circle cx="1086.0" cy="1262.8" r="2.9" fill="#0b0f14"/>
<text x="1210.0" y="1277.0" font-size="31.5" fill="#0d1117" font-weight="700" letter-spacing="-0.3">CPU Usage (Percent)</text>
<circle cx="1542.0" cy="1265.8" r="11.5" fill="#9aa3ad"/>
<rect x="1540.7" y="1264.1" width="2.7" height="7.6" rx="0.6" fill="#fff"/>
<circle cx="1542.0" cy="1261.4" r="1.6" fill="#fff"/>
<circle cx="2081.4" cy="1262.8" r="2.9" fill="#0b0f14"/>
<circle cx="2093.5" cy="1262.8" r="2.9" fill="#0b0f14"/>
<circle cx="2105.5" cy="1262.8" r="2.9" fill="#0b0f14"/>
<text x="268.2" y="1027.0" font-size="23" fill="#666666" text-anchor="end" letter-spacing="0.9">0</text>
<line x1="284.2" y1="931.1" x2="1087.7" y2="931.1" stroke="#e5e9ee" stroke-width="2" stroke-dasharray="4 4"/>
<text x="268.2" y="939.3" font-size="23" fill="#666666" text-anchor="end" letter-spacing="0.9">65</text>
<line x1="284.2" y1="843.4" x2="1087.7" y2="843.4" stroke="#e5e9ee" stroke-width="2" stroke-dasharray="4 4"/>
<text x="268.2" y="851.6" font-size="23" fill="#666666" text-anchor="end" letter-spacing="0.9">130</text>
<line x1="284.2" y1="755.7" x2="1087.7" y2="755.7" stroke="#e5e9ee" stroke-width="2" stroke-dasharray="4 4"/>
<text x="268.2" y="763.9" font-size="23" fill="#666666" text-anchor="end" letter-spacing="0.9">195</text>
<line x1="284.2" y1="668.0" x2="1087.7" y2="668.0" stroke="#e5e9ee" stroke-width="2" stroke-dasharray="4 4"/>
<text x="268.2" y="682.4" font-size="23" fill="#666666" text-anchor="end" letter-spacing="0.9">260</text>
<line x1="284.2" y1="1018.8" x2="1088.7" y2="1018.8" stroke="#6b7a89" stroke-width="2.2"/>
<line x1="364.2" y1="1018.8" x2="364.2" y2="1030.8" stroke="#6b7a89" stroke-width="2.2"/>
<line x1="480.2" y1="1018.8" x2="480.2" y2="1030.8" stroke="#6b7a89" stroke-width="2.2"/>
<line x1="596.3" y1="1018.8" x2="596.3" y2="1030.8" stroke="#6b7a89" stroke-width="2.2"/>
<line x1="712.3" y1="1018.8" x2="712.3" y2="1030.8" stroke="#6b7a89" stroke-width="2.2"/>
<line x1="828.4" y1="1018.8" x2="828.4" y2="1030.8" stroke="#6b7a89" stroke-width="2.2"/>
<line x1="944.5" y1="1018.8" x2="944.5" y2="1030.8" stroke="#6b7a89" stroke-width="2.2"/>
<line x1="1087.7" y1="1018.8" x2="1087.7" y2="1030.8" stroke="#6b7a89" stroke-width="2.2"/>
<text x="364.5" y="1064.1" font-size="23" fill="#6b7785" text-anchor="middle" letter-spacing="0.5">16:39</text>
<text x="480.6" y="1064.1" font-size="23" fill="#6b7785" text-anchor="middle" letter-spacing="0.5">16:47</text>
<text x="596.6" y="1064.1" font-size="23" fill="#6b7785" text-anchor="middle" letter-spacing="0.5">16:56</text>
<text x="712.6" y="1064.1" font-size="23" fill="#6b7785" text-anchor="middle" letter-spacing="0.5">17:05</text>
<text x="828.7" y="1064.1" font-size="23" fill="#6b7785" text-anchor="middle" letter-spacing="0.5">17:13</text>
<text x="944.8" y="1064.1" font-size="23" fill="#6b7785" text-anchor="middle" letter-spacing="0.5">17:22</text>
<text x="1064.5" y="1064.1" font-size="23" fill="#6b7785" text-anchor="middle" letter-spacing="0.5">17:33</text>
<line x1="284.2" y1="1018.1" x2="1088" y2="1018.1" stroke="#6a87a8" stroke-width="1.5"/><line x1="284.2" y1="1018.1" x2="384" y2="1018.1" stroke="#62b4c0" stroke-width="1.5"/><line x1="987" y1="1018.1" x2="1088" y2="1018.1" stroke="#5fb8c0" stroke-width="1.5"/>

<path d="M497.8,1019.0C507.3,1018.0 516.9,1017.0 526.4,1017.0C539.6,1017.0 552.8,1017.0 566.0,1017.0C568.5,1017.0 571.1,1010.3 573.6,997.0C576.5,981.8 579.4,947.4 582.3,925.6C585.6,900.7 588.9,876.1 592.2,858.6C596.3,836.7 600.5,815.9 604.6,815.9C617.3,815.9 630.0,818.1 642.7,818.4C657.8,818.8 672.9,818.6 688.0,819.0C700.5,819.3 713.0,832.2 725.5,832.2C738.5,832.2 751.4,814.0 764.4,814.0C778.2,814.0 792.0,818.4 805.8,818.4C822.5,818.4 839.3,817.2 856.0,817.0C872.7,816.8 889.3,816.9 906.0,816.7C927.0,816.4 948.0,814.8 969.0,810.9C976.0,809.6 983.0,806.9 990.0,799.0C995.5,792.7 1001.1,779.2 1006.6,768.2C1019.1,743.4 1031.5,683.5 1044.0,682.2C1058.5,680.7 1072.9,680.4 1087.4,680.0" fill="none" stroke="#2e3077" stroke-width="2.2" stroke-linejoin="round" stroke-linecap="round"/>
<path d="M526.0,1019.0C530.7,1014.2 535.3,1009.3 540.0,990.0C544.0,973.4 548.0,928.6 552.0,900.0C555.9,872.4 559.7,822.2 563.6,821.0C570.9,818.7 578.2,817.6 585.5,817.6C592.0,817.6 598.5,817.6 605.0,817.7C617.6,817.8 630.1,819.1 642.7,819.4C657.8,819.8 672.9,819.6 688.0,820.0C700.5,820.3 713.0,833.2 725.5,833.2C738.5,833.2 751.4,815.0 764.4,815.0C778.2,815.0 792.0,819.4 805.8,819.4C822.5,819.4 839.3,818.2 856.0,818.0C872.7,817.8 889.3,817.9 906.0,817.7C927.0,817.4 948.0,815.8 969.0,811.9C976.0,810.6 983.0,807.9 990.0,800.0C995.5,793.7 1001.1,780.2 1006.6,769.2C1019.1,744.4 1031.5,684.2 1044.0,683.2C1058.5,682.0 1072.9,681.7 1087.4,681.4" fill="none" stroke="#5ab3ee" stroke-width="2.4" stroke-linejoin="round" stroke-linecap="round"/>
<line x1="247.2" y1="1125.8" x2="280.2" y2="1125.8" stroke="#2e3077" stroke-width="4"/>
<circle cx="263.7" cy="1125.8" r="8.5" fill="#2e3077"/>
<text x="296.7" y="1134.3" font-size="24" fill="#6b7785">Select</text>
<line x1="395.9" y1="1125.8" x2="428.9" y2="1125.8" stroke="#5ab3ee" stroke-width="4"/>
<circle cx="412.4" cy="1125.8" r="8.5" fill="#5ab3ee"/>
<text x="445.4" y="1134.3" font-size="24" fill="#6b7785">Insert</text>
<line x1="539.9" y1="1125.8" x2="572.9" y2="1125.8" stroke="#ad4fc0" stroke-width="4"/>
<circle cx="556.4" cy="1125.8" r="8.5" fill="#ad4fc0"/>
<text x="589.4" y="1134.3" font-size="24" fill="#6b7785">Update</text>
<line x1="699.3" y1="1125.8" x2="732.3" y2="1125.8" stroke="#66bdbf" stroke-width="4"/>
<circle cx="715.8" cy="1125.8" r="8.5" fill="#66bdbf"/>
<text x="748.8" y="1134.3" font-size="24" fill="#6b7785">Delete</text>
<text x="1287.7" y="1027.0" font-size="23" fill="#666666" text-anchor="end" letter-spacing="0.9">0</text>
<line x1="1303.7" y1="931.1" x2="2107.2" y2="931.1" stroke="#e5e9ee" stroke-width="2" stroke-dasharray="4 4"/>
<text x="1287.7" y="939.3" font-size="23" fill="#666666" text-anchor="end" letter-spacing="0.9">7</text>
<line x1="1303.7" y1="843.4" x2="2107.2" y2="843.4" stroke="#e5e9ee" stroke-width="2" stroke-dasharray="4 4"/>
<text x="1287.7" y="851.6" font-size="23" fill="#666666" text-anchor="end" letter-spacing="0.9">14</text>
<line x1="1303.7" y1="755.7" x2="2107.2" y2="755.7" stroke="#e5e9ee" stroke-width="2" stroke-dasharray="4 4"/>
<text x="1287.7" y="763.9" font-size="23" fill="#666666" text-anchor="end" letter-spacing="0.9">21</text>
<line x1="1303.7" y1="668.0" x2="2107.2" y2="668.0" stroke="#e5e9ee" stroke-width="2" stroke-dasharray="4 4"/>
<text x="1287.7" y="682.4" font-size="23" fill="#666666" text-anchor="end" letter-spacing="0.9">28</text>
<line x1="1303.7" y1="1018.8" x2="2108.2" y2="1018.8" stroke="#6b7a89" stroke-width="2.2"/>
<line x1="1383.7" y1="1018.8" x2="1383.7" y2="1030.8" stroke="#6b7a89" stroke-width="2.2"/>
<line x1="1499.8" y1="1018.8" x2="1499.8" y2="1030.8" stroke="#6b7a89" stroke-width="2.2"/>
<line x1="1615.8" y1="1018.8" x2="1615.8" y2="1030.8" stroke="#6b7a89" stroke-width="2.2"/>
<line x1="1731.8" y1="1018.8" x2="1731.8" y2="1030.8" stroke="#6b7a89" stroke-width="2.2"/>
<line x1="1847.9" y1="1018.8" x2="1847.9" y2="1030.8" stroke="#6b7a89" stroke-width="2.2"/>
<line x1="1964.0" y1="1018.8" x2="1964.0" y2="1030.8" stroke="#6b7a89" stroke-width="2.2"/>
<line x1="2107.2" y1="1018.8" x2="2107.2" y2="1030.8" stroke="#6b7a89" stroke-width="2.2"/>
<text x="1384.0" y="1064.1" font-size="23" fill="#6b7785" text-anchor="middle" letter-spacing="0.5">16:39</text>
<text x="1500.0" y="1064.1" font-size="23" fill="#6b7785" text-anchor="middle" letter-spacing="0.5">16:47</text>
<text x="1616.1" y="1064.1" font-size="23" fill="#6b7785" text-anchor="middle" letter-spacing="0.5">16:56</text>
<text x="1732.1" y="1064.1" font-size="23" fill="#6b7785" text-anchor="middle" letter-spacing="0.5">17:05</text>
<text x="1848.2" y="1064.1" font-size="23" fill="#6b7785" text-anchor="middle" letter-spacing="0.5">17:13</text>
<text x="1964.2" y="1064.1" font-size="23" fill="#6b7785" text-anchor="middle" letter-spacing="0.5">17:22</text>
<text x="2084.0" y="1064.1" font-size="23" fill="#6b7785" text-anchor="middle" letter-spacing="0.5">17:33</text>

<line x1="1665.6" y1="668" x2="1665.6" y2="1019" stroke="#cccccc" stroke-width="2"/>
<path d="M1545.1,734.6C1558.5,733.7 1571.9,732.8 1585.3,732.8C1587.4,732.8 1589.4,734.5 1591.5,737.9C1596.5,746.2 1601.6,779.2 1606.6,803.1C1609.9,818.9 1613.3,838.0 1616.6,853.3C1619.1,865.0 1621.7,885.6 1624.2,885.9C1638.0,887.3 1651.8,888.0 1665.6,888.0C1678.7,888.0 1691.9,884.7 1705.0,884.7C1718.4,884.7 1731.9,887.2 1745.3,887.2C1758.7,887.2 1772.1,883.0 1785.5,883.0C1802.2,883.0 1819.0,886.8 1835.7,887.2C1856.6,887.7 1877.5,888.0 1898.4,888.0C1915.1,888.0 1931.9,886.4 1948.6,886.4C1961.1,886.4 1973.7,887.1 1986.2,888.4C1990.8,888.9 1995.4,895.0 2000.0,900.0C2010.5,911.3 2020.9,933.0 2031.4,951.2C2041.4,968.7 2051.5,1006.4 2061.5,1006.9C2076.8,1007.7 2092.1,1007.9 2107.4,1008.1" fill="none" stroke="#2e3077" stroke-width="2.2" stroke-linejoin="round" stroke-linecap="round"/>
<path d="M1584.5,683.4C1591.9,686.8 1599.2,690.2 1606.6,692.7C1612.9,694.8 1619.1,697.7 1625.4,697.7C1635.0,697.7 1644.7,695.1 1654.3,694.5C1658.1,694.3 1661.8,694.0 1665.6,694.0C1680.4,694.0 1695.2,694.0 1710.0,694.0C1722.6,694.0 1735.2,694.9 1747.8,695.2C1762.0,695.5 1776.3,695.7 1790.5,695.7C1802.2,695.7 1813.9,693.2 1825.6,693.2C1839.0,693.2 1852.4,693.3 1865.8,693.5C1879.2,693.7 1892.6,697.0 1906.0,697.0C1916.0,697.0 1926.0,696.5 1936.0,696.5C1952.7,696.5 1969.5,696.9 1986.2,697.7C1989.1,697.8 1992.1,699.1 1995.0,702.0C2002.1,708.9 2009.2,733.6 2016.3,753.0C2025.5,778.2 2034.8,811.7 2044.0,840.8C2048.2,853.9 2052.3,870.4 2056.5,880.0C2059.0,885.8 2061.5,893.3 2064.0,893.5C2078.5,894.6 2092.9,894.9 2107.4,895.2" fill="none" stroke="#5ab3ee" stroke-width="2.2" stroke-linejoin="round" stroke-linecap="round"/>
<line x1="1266.7" y1="1125.8" x2="1299.7" y2="1125.8" stroke="#2e3077" stroke-width="4"/>
<circle cx="1283.2" cy="1125.8" r="8.5" fill="#2e3077"/>
<text x="1316.2" y="1134.3" font-size="24" fill="#6b7785">Select</text>
<line x1="1415.4" y1="1125.8" x2="1448.4" y2="1125.8" stroke="#5ab3ee" stroke-width="4"/>
<circle cx="1431.9" cy="1125.8" r="8.5" fill="#5ab3ee"/>
<text x="1464.9" y="1134.3" font-size="24" fill="#6b7785">Insert</text>
<line x1="1559.4" y1="1125.8" x2="1592.4" y2="1125.8" stroke="#ad4fc0" stroke-width="4"/>
<circle cx="1575.9" cy="1125.8" r="8.5" fill="#ad4fc0"/>
<text x="1608.9" y="1134.3" font-size="24" fill="#6b7785">Update</text>
<line x1="1718.8" y1="1125.8" x2="1751.8" y2="1125.8" stroke="#66bdbf" stroke-width="4"/>
<circle cx="1735.3" cy="1125.8" r="8.5" fill="#66bdbf"/>
<text x="1768.3" y="1134.3" font-size="24" fill="#6b7785">Delete</text>
<circle cx="1665.6" cy="694" r="9.5" fill="#fff"/><circle cx="1665.6" cy="694" r="6" fill="#5ab3ee"/>
<circle cx="1665.6" cy="888" r="9.5" fill="#fff"/><circle cx="1665.6" cy="888" r="6" fill="#2e3077"/>
<line x1="1665.6" y1="668" x2="1665.6" y2="1019" stroke="#c9c9c9" stroke-width="2"/>
<rect x="1686.5" y="699.5" width="267" height="171" rx="16" fill="#fff" stroke="#c8c8c8" stroke-width="2"/>
<text x="1706.5" y="744.0" font-size="25" fill="#000000" letter-spacing="0.4">17:00</text>
<circle cx="1715.3" cy="778" r="5.4" fill="#2e3077"/>
<text x="1730.5" y="785.5" font-size="26" fill="#2e3077" letter-spacing="0.4">Select: 10.45 ms</text>
<circle cx="1715.3" cy="826" r="5.4" fill="#5ab3ee"/>
<text x="1730.5" y="833.5" font-size="26" fill="#5ab3ee" letter-spacing="0.6">Insert: 25.92 ms</text>
<text x="268.2" y="1694.9" font-size="23" fill="#666666" text-anchor="end" letter-spacing="0.9">0</text>
<line x1="284.2" y1="1599.0" x2="1087.7" y2="1599.0" stroke="#e5e9ee" stroke-width="2" stroke-dasharray="4 4"/>
<text x="268.2" y="1607.2" font-size="23" fill="#666666" text-anchor="end" letter-spacing="0.9">15</text>
<line x1="284.2" y1="1511.3" x2="1087.7" y2="1511.3" stroke="#e5e9ee" stroke-width="2" stroke-dasharray="4 4"/>
<text x="268.2" y="1519.5" font-size="23" fill="#666666" text-anchor="end" letter-spacing="0.9">30</text>
<line x1="284.2" y1="1423.6" x2="1087.7" y2="1423.6" stroke="#e5e9ee" stroke-width="2" stroke-dasharray="4 4"/>
<text x="268.2" y="1431.8" font-size="23" fill="#666666" text-anchor="end" letter-spacing="0.9">45</text>
<line x1="284.2" y1="1335.9" x2="1087.7" y2="1335.9" stroke="#e5e9ee" stroke-width="2" stroke-dasharray="4 4"/>
<text x="268.2" y="1350.3" font-size="23" fill="#666666" text-anchor="end" letter-spacing="0.9">60</text>
<line x1="284.2" y1="1686.7" x2="1088.7" y2="1686.7" stroke="#6b7a89" stroke-width="2.2"/>
<line x1="364.2" y1="1686.7" x2="364.2" y2="1698.7" stroke="#6b7a89" stroke-width="2.2"/>
<line x1="480.2" y1="1686.7" x2="480.2" y2="1698.7" stroke="#6b7a89" stroke-width="2.2"/>
<line x1="596.3" y1="1686.7" x2="596.3" y2="1698.7" stroke="#6b7a89" stroke-width="2.2"/>
<line x1="712.3" y1="1686.7" x2="712.3" y2="1698.7" stroke="#6b7a89" stroke-width="2.2"/>
<line x1="828.4" y1="1686.7" x2="828.4" y2="1698.7" stroke="#6b7a89" stroke-width="2.2"/>
<line x1="944.5" y1="1686.7" x2="944.5" y2="1698.7" stroke="#6b7a89" stroke-width="2.2"/>
<line x1="1087.7" y1="1686.7" x2="1087.7" y2="1698.7" stroke="#6b7a89" stroke-width="2.2"/>
<text x="364.5" y="1732.0" font-size="23" fill="#6b7785" text-anchor="middle" letter-spacing="0.5">16:39</text>
<text x="480.6" y="1732.0" font-size="23" fill="#6b7785" text-anchor="middle" letter-spacing="0.5">16:47</text>
<text x="596.6" y="1732.0" font-size="23" fill="#6b7785" text-anchor="middle" letter-spacing="0.5">16:56</text>
<text x="712.6" y="1732.0" font-size="23" fill="#6b7785" text-anchor="middle" letter-spacing="0.5">17:05</text>
<text x="828.7" y="1732.0" font-size="23" fill="#6b7785" text-anchor="middle" letter-spacing="0.5">17:13</text>
<text x="944.8" y="1732.0" font-size="23" fill="#6b7785" text-anchor="middle" letter-spacing="0.5">17:22</text>
<text x="1064.5" y="1732.0" font-size="23" fill="#6b7785" text-anchor="middle" letter-spacing="0.5">17:33</text>


<path d="M284.2,1336.5L1088.0,1336.5" fill="none" stroke="#5ab3ee" stroke-width="1.6" stroke-linejoin="round" stroke-linecap="round"/>
<path d="M284.2,1686.7C351.3,1686.7 418.3,1686.7 485.4,1686.7C488.7,1686.7 492.0,1680.0 495.3,1675.0C501.1,1666.1 506.9,1645.6 512.7,1637.8C516.4,1632.8 520.2,1628.6 523.9,1628.6C711.9,1628.6 900.0,1628.6 1088.0,1628.6" fill="none" stroke="#2e3077" stroke-width="2.2" stroke-linejoin="round" stroke-linecap="round"/>
<line x1="247.2" y1="1793.7" x2="280.2" y2="1793.7" stroke="#2e3077" stroke-width="4"/>
<circle cx="263.7" cy="1793.7" r="8.5" fill="#2e3077"/>
<text x="296.7" y="1802.2" font-size="24" fill="#6b7785">Max</text>
<line x1="373.7" y1="1793.7" x2="406.7" y2="1793.7" stroke="#5ab3ee" stroke-width="4"/>
<circle cx="390.2" cy="1793.7" r="8.5" fill="#5ab3ee"/>
<text x="423.2" y="1802.2" font-size="24" fill="#6b7785">Limit</text>
<path d="M1303.7,1625.5C1316.8,1621.8 1330.0,1618.2 1343.1,1618.2C1356.5,1618.2 1369.9,1625.1 1383.3,1625.5C1397.5,1626.0 1411.7,1626.2 1425.9,1626.2C1438.9,1626.2 1451.8,1617.4 1464.8,1617.4C1477.8,1617.4 1490.7,1625.5 1503.7,1625.5C1508.7,1625.5 1513.8,1623.6 1518.8,1621.2C1528.0,1616.8 1537.2,1613.7 1546.4,1598.6C1552.3,1589.0 1558.1,1566.1 1564.0,1551.0C1569.8,1536.0 1575.7,1520.3 1581.5,1508.3C1589.9,1491.1 1598.2,1480.7 1606.6,1470.6C1612.5,1463.5 1618.3,1456.3 1624.2,1453.1C1633.4,1448.0 1642.6,1446.2 1651.8,1445.5C1657.6,1445.0 1663.5,1444.8 1669.3,1444.8C1681.4,1444.8 1693.6,1447.1 1705.7,1448.5C1718.4,1450.0 1731.1,1453.6 1743.8,1453.6C1757.8,1453.6 1771.7,1445.2 1785.7,1445.2C1799.7,1445.2 1813.6,1451.8 1827.6,1451.8C1840.7,1451.8 1853.8,1438.4 1866.9,1438.4C1880.0,1438.4 1893.2,1453.1 1906.3,1453.1C1919.0,1453.1 1931.6,1442.7 1944.3,1442.7C1959.5,1442.7 1974.8,1445.2 1990.0,1445.2C2001.0,1445.2 2012.0,1427.2 2023.0,1419.3C2037.4,1409.0 2051.8,1392.2 2066.2,1392.2C2079.7,1392.2 2093.3,1394.3 2106.8,1396.5 L2107.3,1686.4 L1303.7,1686.4 Z" fill="#f1f1f6"/>
<text x="1287.7" y="1694.6" font-size="23" fill="#666666" text-anchor="end" letter-spacing="0.9">0</text>
<line x1="1303.7" y1="1598.7" x2="2107.2" y2="1598.7" stroke="#e5e9ee" stroke-width="2" stroke-dasharray="4 4"/>
<text x="1287.7" y="1606.9" font-size="23" fill="#666666" text-anchor="end" letter-spacing="0.9">5</text>
<line x1="1303.7" y1="1511.0" x2="2107.2" y2="1511.0" stroke="#e5e9ee" stroke-width="2" stroke-dasharray="4 4"/>
<text x="1287.7" y="1519.2" font-size="23" fill="#666666" text-anchor="end" letter-spacing="0.9">10</text>
<line x1="1303.7" y1="1423.3" x2="2107.2" y2="1423.3" stroke="#e5e9ee" stroke-width="2" stroke-dasharray="4 4"/>
<text x="1287.7" y="1431.5" font-size="23" fill="#666666" text-anchor="end" letter-spacing="0.9">15</text>
<line x1="1303.7" y1="1335.6" x2="2107.2" y2="1335.6" stroke="#e5e9ee" stroke-width="2" stroke-dasharray="4 4"/>
<text x="1287.7" y="1350.0" font-size="23" fill="#666666" text-anchor="end" letter-spacing="0.9">20</text>
<line x1="1303.7" y1="1686.4" x2="2108.2" y2="1686.4" stroke="#6b7a89" stroke-width="2.2"/>
<line x1="1383.7" y1="1686.4" x2="1383.7" y2="1698.4" stroke="#6b7a89" stroke-width="2.2"/>
<line x1="1499.8" y1="1686.4" x2="1499.8" y2="1698.4" stroke="#6b7a89" stroke-width="2.2"/>
<line x1="1615.8" y1="1686.4" x2="1615.8" y2="1698.4" stroke="#6b7a89" stroke-width="2.2"/>
<line x1="1731.8" y1="1686.4" x2="1731.8" y2="1698.4" stroke="#6b7a89" stroke-width="2.2"/>
<line x1="1847.9" y1="1686.4" x2="1847.9" y2="1698.4" stroke="#6b7a89" stroke-width="2.2"/>
<line x1="1964.0" y1="1686.4" x2="1964.0" y2="1698.4" stroke="#6b7a89" stroke-width="2.2"/>
<line x1="2107.2" y1="1686.4" x2="2107.2" y2="1698.4" stroke="#6b7a89" stroke-width="2.2"/>
<text x="1384.0" y="1731.7" font-size="23" fill="#6b7785" text-anchor="middle" letter-spacing="0.5">16:39</text>
<text x="1500.0" y="1731.7" font-size="23" fill="#6b7785" text-anchor="middle" letter-spacing="0.5">16:47</text>
<text x="1616.1" y="1731.7" font-size="23" fill="#6b7785" text-anchor="middle" letter-spacing="0.5">16:56</text>
<text x="1732.1" y="1731.7" font-size="23" fill="#6b7785" text-anchor="middle" letter-spacing="0.5">17:05</text>
<text x="1848.2" y="1731.7" font-size="23" fill="#6b7785" text-anchor="middle" letter-spacing="0.5">17:13</text>
<text x="1964.2" y="1731.7" font-size="23" fill="#6b7785" text-anchor="middle" letter-spacing="0.5">17:22</text>
<text x="2084.0" y="1731.7" font-size="23" fill="#6b7785" text-anchor="middle" letter-spacing="0.5">17:33</text>


<path d="M1303.7,1625.5C1316.8,1621.8 1330.0,1618.2 1343.1,1618.2C1356.5,1618.2 1369.9,1625.1 1383.3,1625.5C1397.5,1626.0 1411.7,1626.2 1425.9,1626.2C1438.9,1626.2 1451.8,1617.4 1464.8,1617.4C1477.8,1617.4 1490.7,1625.5 1503.7,1625.5C1508.7,1625.5 1513.8,1623.6 1518.8,1621.2C1528.0,1616.8 1537.2,1613.7 1546.4,1598.6C1552.3,1589.0 1558.1,1566.1 1564.0,1551.0C1569.8,1536.0 1575.7,1520.3 1581.5,1508.3C1589.9,1491.1 1598.2,1480.7 1606.6,1470.6C1612.5,1463.5 1618.3,1456.3 1624.2,1453.1C1633.4,1448.0 1642.6,1446.2 1651.8,1445.5C1657.6,1445.0 1663.5,1444.8 1669.3,1444.8C1681.4,1444.8 1693.6,1447.1 1705.7,1448.5C1718.4,1450.0 1731.1,1453.6 1743.8,1453.6C1757.8,1453.6 1771.7,1445.2 1785.7,1445.2C1799.7,1445.2 1813.6,1451.8 1827.6,1451.8C1840.7,1451.8 1853.8,1438.4 1866.9,1438.4C1880.0,1438.4 1893.2,1453.1 1906.3,1453.1C1919.0,1453.1 1931.6,1442.7 1944.3,1442.7C1959.5,1442.7 1974.8,1445.2 1990.0,1445.2C2001.0,1445.2 2012.0,1427.2 2023.0,1419.3C2037.4,1409.0 2051.8,1392.2 2066.2,1392.2C2079.7,1392.2 2093.3,1394.3 2106.8,1396.5" fill="none" stroke="#2e3077" stroke-width="2.2" stroke-linejoin="round" stroke-linecap="round"/>
<line x1="1266.7" y1="1793.4" x2="1299.7" y2="1793.4" stroke="#2e3077" stroke-width="4"/>
<circle cx="1283.2" cy="1793.4" r="8.5" fill="#2e3077"/>
<text x="1316.2" y="1801.9" font-size="24" fill="#6b7785">CPU</text>
</svg>
</body></html>
